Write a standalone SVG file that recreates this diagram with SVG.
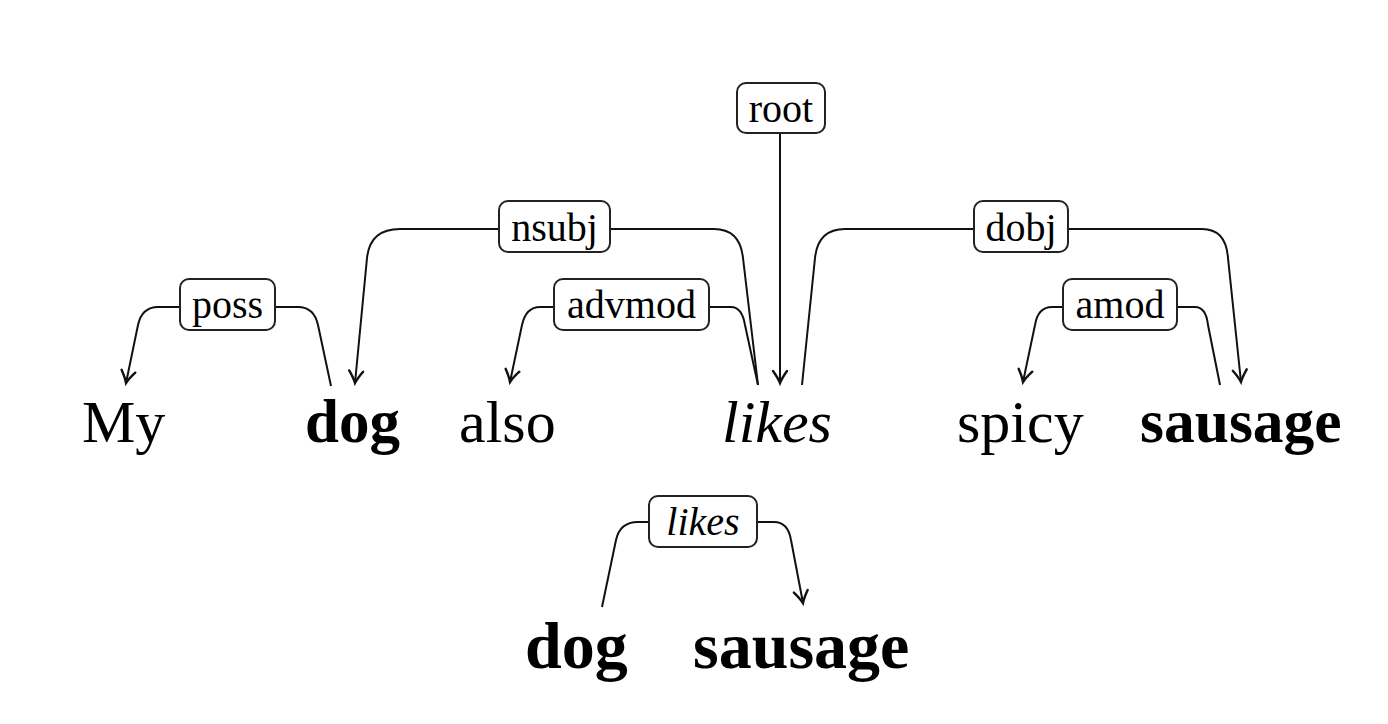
<svg xmlns="http://www.w3.org/2000/svg" width="1388" height="724" viewBox="0 0 1388 724">
<defs>
<marker id="arr" markerUnits="userSpaceOnUse" markerWidth="20" markerHeight="20" refX="0" refY="0" viewBox="-14 -10 16 20" orient="auto" overflow="visible">
<path d="M -12 -7 Q -5 -2 0 0 Q -5 2 -12 7" fill="none" stroke="#111" stroke-width="2.4" stroke-linecap="round"/>
</marker>
</defs>
<style>
.w{font-family:"Liberation Serif","Times New Roman",serif;font-size:60px;fill:#000}
.b{font-weight:bold}
.i{font-style:italic}
.big{font-size:66px}
.lb rect{fill:#fff;stroke:#222;stroke-width:2}
.lb text{font-family:"Liberation Serif","Times New Roman",serif;font-size:40px;fill:#000;text-anchor:middle}
.c path{fill:none;stroke:#111;stroke-width:2}
.c path.a{marker-end:url(#arr)}
</style>
<rect width="1388" height="724" fill="#fff"/>
<g class="c" id="connectors">
<path class="a" d="M 180 307 L 158 307 Q 142 307 138 325 L 126 383"/>
<path d="M 275 307 L 298 307 Q 314 307 318 325 L 331 386"/>
<path class="a" d="M 499 229 L 400 229 Q 370 229 367 258 L 355 383"/>
<path d="M 610 229 L 714 229 Q 740 229 743 258 L 758 385"/>
<path class="a" d="M 554 307 L 540 307 Q 526 307 522 325 L 510 382"/>
<path d="M 709 307 L 731 307 Q 742 307 745 325 L 758 385"/>
<path class="a" d="M 780 133 L 780 383"/>
<path d="M 802 385 L 815 258 Q 818 229 845 229 L 974 229"/>
<path class="a" d="M 1068 229 L 1202 229 Q 1226 229 1228 258 L 1241 382"/>
<path class="a" d="M 1063 307 L 1052 307 Q 1038 307 1035 325 L 1023 382"/>
<path d="M 1177 307 L 1195 307 Q 1206 307 1208 325 L 1220 385"/>
<path d="M 602 607 L 616 540 Q 620 522 638 522 L 649 522"/>
<path class="a" d="M 757 522 L 774 522 Q 788 522 791 540 L 803 603"/>
</g>
<g id="w-my"><text class="w" x="82" y="442">My</text></g>
<g id="w-dog"><text class="w b" x="305" y="442" style="font-size:61px">dog</text></g>
<g id="w-also"><text class="w" x="459" y="442">also</text></g>
<g id="w-likes"><text class="w i" x="722" y="442">likes</text></g>
<g id="w-spicy"><text class="w" x="957" y="442">spicy</text></g>
<g id="w-sausage"><text class="w b" x="1140" y="442" style="font-size:61.5px">sausage</text></g>
<g id="w-dog2"><text class="w b big" x="525" y="668">dog</text></g>
<g id="w-sausage2"><text class="w b big" x="693" y="668">sausage</text></g>
<g id="l-root" class="lb"><rect x="737" y="83" width="88" height="50" rx="9"/><text x="781" y="122">root</text></g>
<g id="l-nsubj" class="lb"><rect x="499" y="201" width="111" height="51" rx="9"/><text x="554.5" y="241">nsubj</text></g>
<g id="l-advmod" class="lb"><rect x="554" y="279" width="155" height="51" rx="9"/><text x="631.5" y="318">advmod</text></g>
<g id="l-poss" class="lb"><rect x="180" y="279" width="95" height="51" rx="9"/><text x="227.5" y="318">poss</text></g>
<g id="l-dobj" class="lb"><rect x="974" y="201" width="94" height="51" rx="9"/><text x="1021" y="241">dobj</text></g>
<g id="l-amod" class="lb"><rect x="1063" y="279" width="114" height="51" rx="9"/><text x="1120" y="318">amod</text></g>
<g id="l-likes" class="lb"><rect x="649" y="496" width="108" height="51" rx="9"/><text x="703" y="535" font-style="italic">likes</text></g>
</svg>
